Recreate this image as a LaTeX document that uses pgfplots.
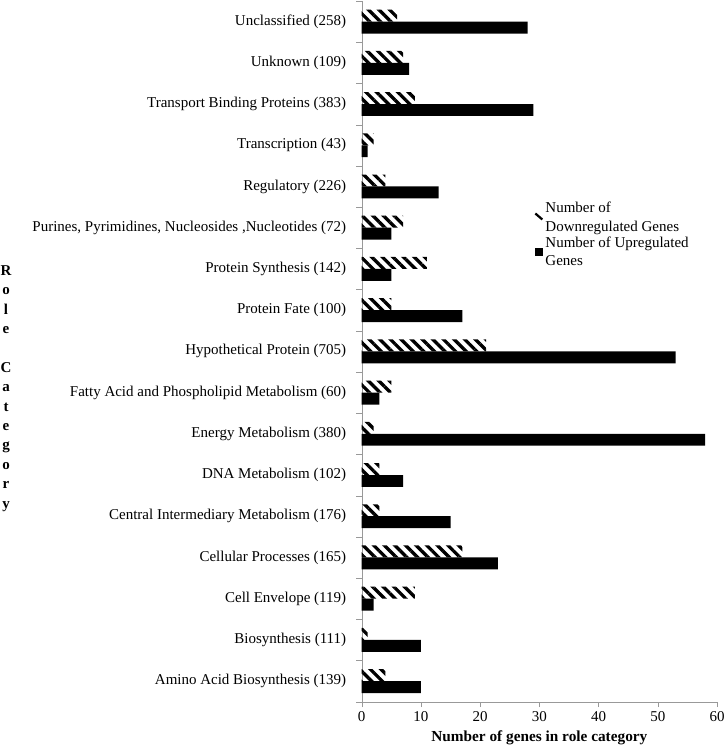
\documentclass[border=0pt]{standalone}
\usepackage{fontspec}
\setmainfont{Liberation Serif}
\usepackage{pgfplots}
\pgfplotsset{compat=1.18}
\usetikzlibrary{patterns.meta}
\begin{document}
\begin{tikzpicture}
\useasboundingbox (0,0) rectangle (726pt,755pt);
\begin{axis}[
  at={(361.7pt,53.3pt)}, anchor=south west,
  width=355.3pt, height=700.7pt, scale only axis,
  xbar, bar width=0.29,
  xmin=0, xmax=60, ymin=-0.5, ymax=16.5,
  xtick={0,10,...,60},
  ytick={-0.5,0.5,...,16.5},
  y tick label as interval,
  yticklabels={Amino Acid Biosynthesis (139), Biosynthesis (111), Cell Envelope (119), Cellular Processes (165), Central Intermediary Metabolism (176), DNA Metabolism (102), Energy Metabolism (380), Fatty Acid and Phospholipid Metabolism (60), Hypothetical Protein (705), Protein Fate (100), Protein Synthesis (142), {Purines, Pyrimidines, Nucleosides ,Nucleotides (72)}, Regulatory (226), Transcription (43), Transport Binding Proteins (383), Unknown (109), Unclassified (258)},
  axis lines*=left,
  axis line style={-, draw=gray!80},
  tick align=outside,
  major tick length=5.5pt,
  tick style={draw=gray!80},
  /pgf/number format/assume math mode=true,
  tick label style={font=\fontsize{15}{18}\selectfont},
  yticklabel style={xshift=-6.5pt},
  xticklabel style={yshift=-1pt},
  xlabel={Number of genes in role category},
  xlabel style={font=\bfseries\fontsize{15.3}{18}\selectfont, yshift=-2pt},
  legend style={at={(0.485,0.716)}, anchor=north west, draw=none, fill=none,
    font=\fontsize{15}{18.5}\selectfont, cells={align=left}, row sep=0pt, inner sep=0pt},
  legend cell align=left,
]
\addplot[fill=black, draw=none, bar shift=0.145,
  pattern={Lines[angle=-45, distance=7.5pt, line width=3.3pt]}, pattern color=black,
  legend image code/.code={\draw[line width=2.2pt] (0pt,4pt) -- (7pt,-2pt);}]
  coordinates {(4,0) (1,1) (9,2) (17,3) (3,4) (3,5) (2,6) (5,7) (21,8) (5,9) (11,10) (7,11) (4,12) (2,13) (9,14) (7,15) (6,16)};
\addlegendentry{Number of\\Downregulated Genes}
\addplot[fill=black, draw=none, bar shift=-0.145,
  legend image code/.code={\fill[black] (0pt,-4pt) rectangle (8pt,4pt);}]
  coordinates {(10,0) (10,1) (2,2) (23,3) (15,4) (7,5) (58,6) (3,7) (53,8) (17,9) (5,10) (5,11) (13,12) (1,13) (29,14) (8,15) (28,16)};
\addlegendentry{Number of Upregulated\\Genes}
\end{axis}
\node[align=center, font=\bfseries\fontsize{15}{19.4}\selectfont, inner sep=0pt] at (6pt,366.5pt) {R\\o\\l\\e\\\mbox{}\\C\\a\\t\\e\\g\\o\\r\\y};
\end{tikzpicture}
\end{document}
